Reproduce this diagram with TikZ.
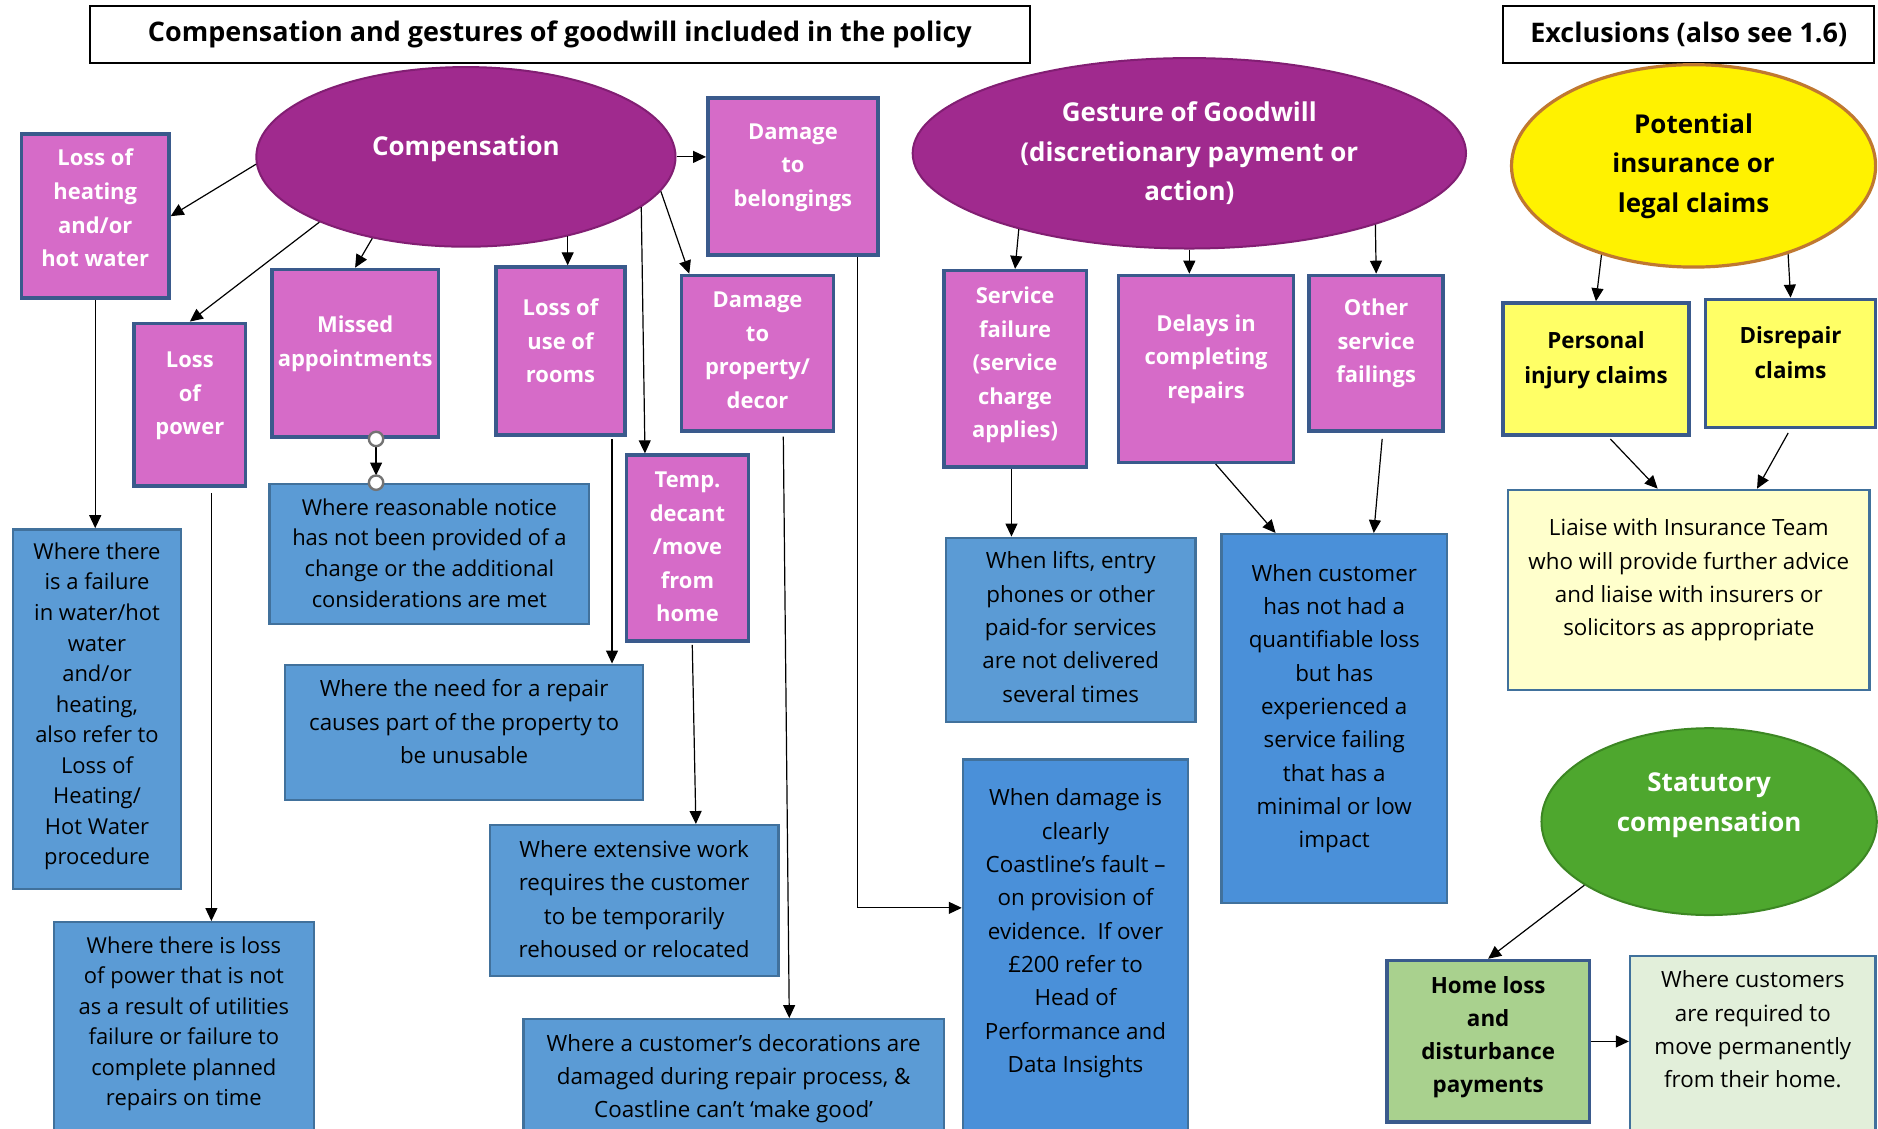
\documentclass[tikz,border=0pt]{standalone}
\usepackage{fontspec}
\setmainfont{Open Sans}
\usepackage{tikz}
\usetikzlibrary{positioning, calc}
\usetikzlibrary{arrows.meta}
\usetikzlibrary{shapes.geometric}

\definecolor{ovfill}{RGB}{160,42,142}
\definecolor{ovedge}{RGB}{130,30,115}
\definecolor{pkfill}{RGB}{214,107,200}
\definecolor{pkedge}{RGB}{58,90,140}
\definecolor{blfill}{RGB}{91,155,213}
\definecolor{blfillb}{RGB}{74,144,217}
\definecolor{bledge}{RGB}{65,113,156}
\definecolor{ylfill}{RGB}{255,255,102}
\definecolor{ylpale}{RGB}{255,255,204}
\definecolor{yledge}{RGB}{192,120,48}
\definecolor{gnfill}{RGB}{78,167,46}
\definecolor{gnedge}{RGB}{60,135,35}
\definecolor{gnmid}{RGB}{169,209,142}
\definecolor{gnpale}{RGB}{226,239,218}

% lines of a box, lifted a little above the middle
\newcommand{\boxtxt}[2][0]{\raisebox{#1\dimexpr0.6pt\relax}[\height][\depth]{\begin{tabular}{@{}c@{}}#2\end{tabular}}}

\begin{document}
\begin{tikzpicture}[x=0.6pt, y=-0.6pt]
	\tikzset{sz/.style 2 args={minimum width=#1*0.6pt, minimum height=#2*0.6pt}}
	\tikzstyle{hd-node}=[rectangle, draw=black, line width=1pt, fill=white, inner sep=0pt, font=\bfseries\fontsize{13.5}{16}\selectfont]
	\tikzstyle{ov-node}=[ellipse, draw=ovedge, line width=1pt, fill=ovfill, text=white, inner sep=0pt, font=\bfseries\fontsize{13}{19.8}\selectfont]
	\tikzstyle{yl-oval}=[draw=yledge, line width=1.6pt, fill=yellow, text=black]
	\tikzstyle{gn-oval}=[draw=gnedge, fill=gnfill]
	\tikzstyle{pk-node}=[rectangle, draw=pkedge, line width=1.8pt, fill=pkfill, text=white, inner sep=0pt, font=\bfseries\fontsize{11}{16.8}\selectfont]
	\tikzstyle{yl-node}=[pk-node, fill=ylfill, text=black, font=\bfseries\fontsize{11.2}{17.4}\selectfont]
	\tikzstyle{gn-node}=[pk-node, fill=gnmid, text=black, font=\bfseries\fontsize{11.2}{16.6}\selectfont]
	\tikzstyle{bl-node}=[rectangle, draw=bledge, line width=1.2pt, fill=blfill, text=black, inner sep=0pt, font=\fontsize{11.2}{16.7}\selectfont]
	\tikzstyle{bl-tight}=[font=\fontsize{11}{15.3}\selectfont]
	\tikzstyle{a-line}=[-{Triangle[length=6.5pt,width=6pt]}, line width=0.6pt]
	\tikzstyle{pin-dot}=[draw=black!55, fill=white, line width=1.2pt]

	\useasboundingbox (0,0) rectangle (1568,942);
	\fill[white] (0,0) rectangle (1568,942);
	\clip (0,0) rectangle (1568,942);

	% headings
	\node[hd-node, sz={785}{48}] (hd0) at (467.5,29) {Compensation and gestures of goodwill included in the policy};
	\node[hd-node, sz={310}{48}] (hd1) at (1410,29) {Exclusions (also see 1.6)};

	% ovals
	\node[ov-node, sz={350}{150}] (ov0) at (389,131) {\boxtxt[8]{Compensation}};
	\node[ov-node, sz={462}{159}] (ov1) at (993,128) {\boxtxt{Gesture of Goodwill\\(discretionary payment or\\action)}};
	\node[ov-node, yl-oval, sz={304}{169}] (ov2) at (1414,138.5) {\boxtxt[1]{Potential\\insurance or\\legal claims}};
	\node[ov-node, gn-oval, sz={280}{156}] (ov3) at (1427,686) {\boxtxt[15]{Statutory\\compensation}};

	% compensation types
	\node[pk-node, sz={123}{137}] (pk0) at (79.5,180.5) {\boxtxt[5.5]{Loss of\\heating\\and/or\\hot water}};
	\node[pk-node, sz={93}{136}] (pk1) at (158.5,338) {\boxtxt[8.5]{Loss\\of\\power}};
	\node[pk-node, sz={139}{140}] (pk2) at (296.5,295) {\boxtxt[9]{Missed\\appointments}};
	\node[pk-node, sz={108}{140}] (pk3) at (468,293) {\boxtxt[7]{Loss of\\use of\\rooms}};
	\node[pk-node, sz={142}{131}] (pk4) at (662,147.5) {\boxtxt[9]{Damage\\to\\belongings}};
	\node[pk-node, sz={127}{130}] (pk5) at (632.5,295) {\boxtxt[1.5]{Damage\\to\\property/\\decor}};
	\node[pk-node, sz={102}{155}] (pk6) at (574,457.5) {\boxtxt{Temp.\\decant\\/move\\from\\home}};

	% goodwill types
	\node[pk-node, sz={119}{164}] (pk7) at (847.5,308) {\boxtxt[4]{Service\\failure\\(service\\charge\\applies)}};
	\node[pk-node, sz={146}{156}] (pk8) at (1007,308) {\boxtxt[9]{Delays in\\completing\\repairs}};
	\node[pk-node, sz={112}{130}] (pk9) at (1149,295) {\boxtxt[9]{Other\\service\\failings}};

	% exclusions
	\node[yl-node, sz={155}{110}] (yl0) at (1332.5,308) {\boxtxt[8.5]{Personal\\injury claims}};
	\node[yl-node, sz={142}{107}] (yl1) at (1495,303.5) {\boxtxt[8]{Disrepair\\claims}};
	\node[bl-node, fill=ylpale, sz={302}{167}] (yl2) at (1410,492.5) {\boxtxt[9]{Liaise with Insurance Team\\who will provide further advice\\and liaise with insurers or\\solicitors as appropriate}};

	% when it applies
	\node[bl-node, bl-tight, sz={140}{300}] (bl0) at (81,592) {\boxtxt[2.5]{Where there\\is a failure\\in water/hot\\water\\and/or\\heating,\\also refer to\\Loss of\\Heating/\\Hot Water\\procedure}};
	\node[bl-node, bl-tight, sz={267}{117}] (bl1) at (358.5,462.5) {\boxtxt[-1]{Where reasonable notice\\has not been provided of a\\change or the additional\\considerations are met}};
	\node[bl-node, sz={299}{113}] (bl2) at (387.5,611.5) {\boxtxt[7.5]{Where the need for a repair\\causes part of the property to\\be unusable}};
	\node[bl-node, sz={241}{126}] (bl3) at (529.5,752) {\boxtxt{Where extensive work\\requires the customer\\to be temporarily\\rehoused or relocated}};
	\node[bl-node, bl-tight, sz={217}{180}] (bl4) at (153.5,860) {\boxtxt[5.5]{Where there is loss\\of power that is not\\as a result of utilities\\failure or failure to\\complete planned\\repairs on time}};
	\node[bl-node, sz={351}{109}] (bl5) at (612.5,905.5) {\boxtxt[5.5]{Where a customer’s decorations are\\damaged during repair process, \&\\Coastline can’t ‘make good’}};
	\node[bl-node, sz={208}{154}] (bl6) at (894,526) {\boxtxt[1]{When lifts, entry\\phones or other\\paid-for services\\are not delivered\\several times}};
	\node[bl-node, fill=blfillb, sz={188}{308}] (bl7) at (1114,600) {\boxtxt[9]{When customer\\has not had a\\quantifiable loss\\but has\\experienced a\\service failing\\that has a\\minimal or low\\impact}};
	\node[bl-node, fill=blfillb, sz={188}{316}] (bl8) at (898,792) {\boxtxt[13.5]{When damage is\\clearly\\Coastline’s fault –\\on provision of\\evidence.\ \ If over\\£200 refer to\\Head of\\Performance and\\Data Insights}};

	% statutory
	\node[gn-node, sz={169}{135}] (gn0) at (1242.5,869.5) {\boxtxt[4]{Home loss\\and\\disturbance\\payments}};
	\node[bl-node, fill=gnpale, sz={205}{150}] (gn1) at (1463.5,873) {\boxtxt[12]{Where customers\\are required to\\move permanently\\from their home.}};

	% connector points
	\coordinate (c0) at ($(pk1.south)+(18,4)$);
	\coordinate (c1) at ($(pk3.south)+(43,2)$);
	\coordinate (c2) at ($(pk7.south)+(-3,0)$);
	\coordinate (mc0) at ($(pk2.south)+(17.5,0)$);
	\coordinate (mc1) at (mc0 |- bl1.north);

	\path[a-line] (ov0.182) edge (pk0.east)
		(ov0.204) edge (pk1.north)
		(ov0.221) edge (pk2.north)
		(ov0.322) edge (ov0.322 |- pk3.north)
		(ov0.east) edge (ov0.east -| pk4.west)
		(ov0.350) edge ($(pk5.north west)+(8,0)$)
		(ov0.344) edge ($(pk6.north west)+(17,0)$)
		(pk0.south) edge (pk0.south |- bl0.north)
		(c0) edge (c0 |- bl4.north)
		(c1) edge (c1 |- bl2.north)
		($(pk6.south)+(4,2)$) edge ($(bl3.north)+(51.5,0)$)
		($(pk5.south)+(21.5,3)$) edge ($(bl5.north)+(46.5,0)$)
		(ov1.204) edge (pk7.north)
		(ov1.south) edge (ov1.south |- pk8.north)
		(ov1.339) edge (pk9.north)
		(c2) edge (c2 |- bl6.north)
		($(pk8.south)+(8,0)$) edge ($(bl7.north)+(-49,0)$)
		($(pk9.south)+(5,5)$) edge ($(bl7.north)+(33,0)$)
		(ov2.224) edge (yl0.north)
		(ov2.317) edge (yl1.north)
		($(yl0.south)+(12,2)$) edge ($(yl2.north)+(-26,0)$)
		($(yl1.south)+(-2,3)$) edge ($(yl2.north)+(57,0)$)
		(ov3.207) edge (gn0.north)
		(gn0.east) edge (gn0.east -| gn1.west);
	\draw[a-line] ($(pk4.south)+(54,0)$) |- ($(bl8.west)+(0,-34)$);
	\draw[a-line, shorten >=3.6pt] (mc0) -- (mc1);
	\draw[pin-dot] (mc0) circle (3.6pt) (mc1) circle (3.6pt);
\end{tikzpicture}
\end{document}
